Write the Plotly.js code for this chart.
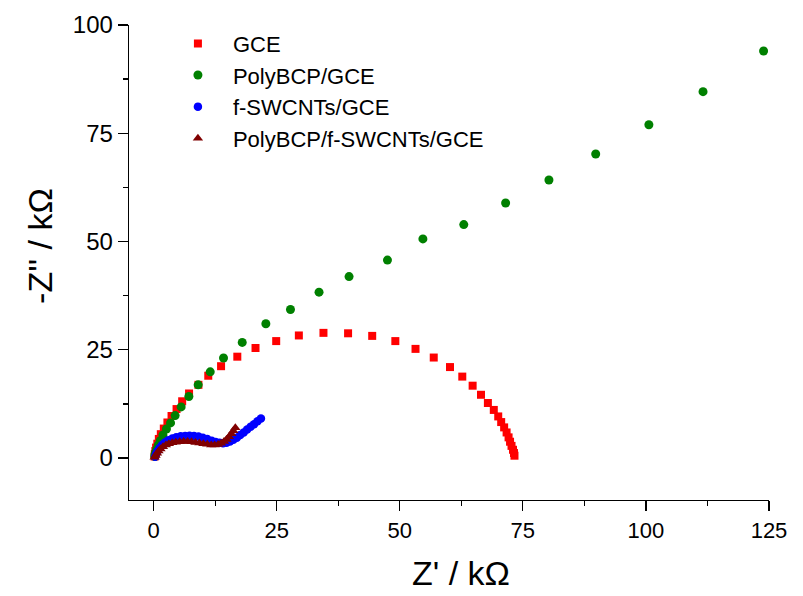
<!DOCTYPE html>
<html>
<head>
<meta charset="utf-8">
<script src="https://cdn.plot.ly/plotly-3.0.1.min.js"></script>
<style>html,body{margin:0;padding:0;background:#fff;}#chart{width:803px;height:596px;}</style>
</head>
<body>
<div id="chart"></div>
<script>
// GCE (red squares)
const gceX = [0.2,0.24,0.35,0.5,0.75,1.06,1.46,2.07,2.8,3.64,4.66,5.8,7.2,9.1,11.1,13.7,17.0,20.7,24.9,29.5,34.5,39.5,44.4,49.1,53.2,56.9,60.2,62.7,64.8,66.5,67.9,69.1,70.0,70.6,71.2,71.7,72.1,72.4,72.7,73.0,73.2,73.3];
const gceY = [0.35,0.9,1.6,2.4,3.3,4.4,5.5,6.8,8.2,9.7,11.3,13.1,14.9,16.9,19.0,21.2,23.4,25.4,27.0,28.3,28.9,28.8,28.2,27.0,25.2,23.2,21.0,18.8,16.7,14.6,12.7,11.1,9.6,8.3,7.07,5.9,4.77,3.76,2.8,1.9,1.15,0.53];

// PolyBCP/GCE (green circles)
const polyX = [0.24,0.3,0.45,0.65,0.96,1.36,1.9,2.6,3.44,4.37,5.59,7.16,9.05,11.5,14.2,18.0,22.8,27.8,33.6,39.7,47.5,54.7,63.0,71.5,80.3,89.8,100.6,111.6,123.9];
const polyY = [0.35,0.8,1.4,2.1,3.0,4.0,5.3,6.7,8.1,9.8,11.8,14.2,16.9,19.9,23.1,26.7,31.0,34.3,38.3,41.9,45.7,50.6,53.9,58.9,64.2,70.2,76.96,84.6,94.0];

// f-SWCNTs/GCE (blue circles)
const swX = [0.3,0.5,0.8,1.2,1.7,2.3,3.0,3.8,4.6,5.5,6.4,7.3,8.2,9.1,10.0,10.9,11.8,12.6,13.4,14.1,14.8,15.5,16.2,16.9,17.6,18.3,19.0,19.7,20.4,21.1,21.8];
const swY = [0.3,0.9,1.6,2.3,3.0,3.6,4.1,4.5,4.8,5.0,5.1,5.15,5.1,4.95,4.7,4.4,4.0,3.7,3.5,3.4,3.5,3.8,4.2,4.7,5.3,5.9,6.6,7.2,7.8,8.5,9.1];

// PolyBCP/f-SWCNTs/GCE (dark red triangles)
const pswX = [0.2,0.4,0.7,1.0,1.4,1.9,2.5,3.1,3.8,4.5,5.3,6.1,6.9,7.7,8.5,9.3,10.1,10.9,11.7,12.4,13.1,13.7,14.3,14.8,15.3,15.8,16.2,16.6];
const pswY = [0.2,0.6,1.1,1.6,2.1,2.6,3.0,3.3,3.5,3.65,3.75,3.8,3.8,3.75,3.6,3.45,3.3,3.15,3.0,3.0,3.1,3.4,3.8,4.3,4.9,5.6,6.3,7.0];

const names = ['GCE','PolyBCP/GCE','f-SWCNTs/GCE','PolyBCP/f-SWCNTs/GCE'];
const xTicks = [0,25,50,75,100,125];
const yTicks = [0,25,50,75,100];
const xTitle = "Z' / kΩ";
const yTitle = "-Z'' / kΩ";

const FONT = 'Liberation Sans, Arial, sans-serif';

const traces = [
  {x: gceX, y: gceY, name: names[0], mode:'markers', type:'scatter',
   marker:{symbol:'square', size:8, color:'#ff0000'}},
  {x: polyX, y: polyY, name: names[1], mode:'markers', type:'scatter',
   marker:{symbol:'circle', size:9, color:'#008000'}},
  {x: swX, y: swY, name: names[2], mode:'markers', type:'scatter',
   marker:{symbol:'circle', size:8.5, color:'#0000ff'}},
  {x: pswX, y: pswY, name: names[3], mode:'markers', type:'scatter',
   marker:{symbol:'triangle-up', size:9, color:'#800000'}}
];

const layout = {
  width: 803, height: 596,
  margin: {l:129, r:34, t:25, b:96},
  paper_bgcolor:'#fff', plot_bgcolor:'#fff',
  font: {family: FONT, color:'#000'},
  showlegend: true,
  legend: {
    x: 0.053, y: 1.005, xanchor:'left', yanchor:'top',
    font:{family:FONT, size:22, color:'#000'},
    bgcolor:'rgba(0,0,0,0)', itemwidth: 60, tracegroupgap: 0
  },
  xaxis: {
    range:[-5,125], tickvals: xTicks, ticktext: xTicks.map(String),
    showgrid:false, zeroline:false, showline:true, linecolor:'#000', linewidth:1.3,
    ticks:'outside', ticklen:10, tickwidth:1.3, tickcolor:'#000',
    tickfont:{family:FONT, size:22, color:'#000'},
    minor:{dtick:12.5, tick0:0, ticks:'outside', ticklen:5, tickwidth:1.3, tickcolor:'#000'}
  },
  yaxis: {
    range:[-9.7,100], tickvals: yTicks, ticktext: yTicks.map(String),
    showgrid:false, zeroline:false, showline:true, linecolor:'#000', linewidth:1.3,
    ticks:'outside', ticklen:10, tickwidth:1.3, tickcolor:'#000',
    tickfont:{family:FONT, size:24, color:'#000'},
    minor:{dtick:12.5, tick0:0, ticks:'outside', ticklen:5, tickwidth:1.3, tickcolor:'#000'}
  },
  annotations: [
    {text: xTitle, xref:'paper', yref:'paper', x:0.519, y:-0.154, xanchor:'center', yanchor:'middle',
     showarrow:false, font:{family:FONT, size:34, color:'#000'}},
    {text: yTitle, xref:'paper', yref:'paper', x:-0.139, y:0.535, xanchor:'center', yanchor:'middle',
     textangle:-90, showarrow:false, font:{family:FONT, size:34, color:'#000'}}
  ]
};

Plotly.newPlot('chart', traces, layout, {displayModeBar:false, staticPlot:true});
</script>
</body>
</html>
